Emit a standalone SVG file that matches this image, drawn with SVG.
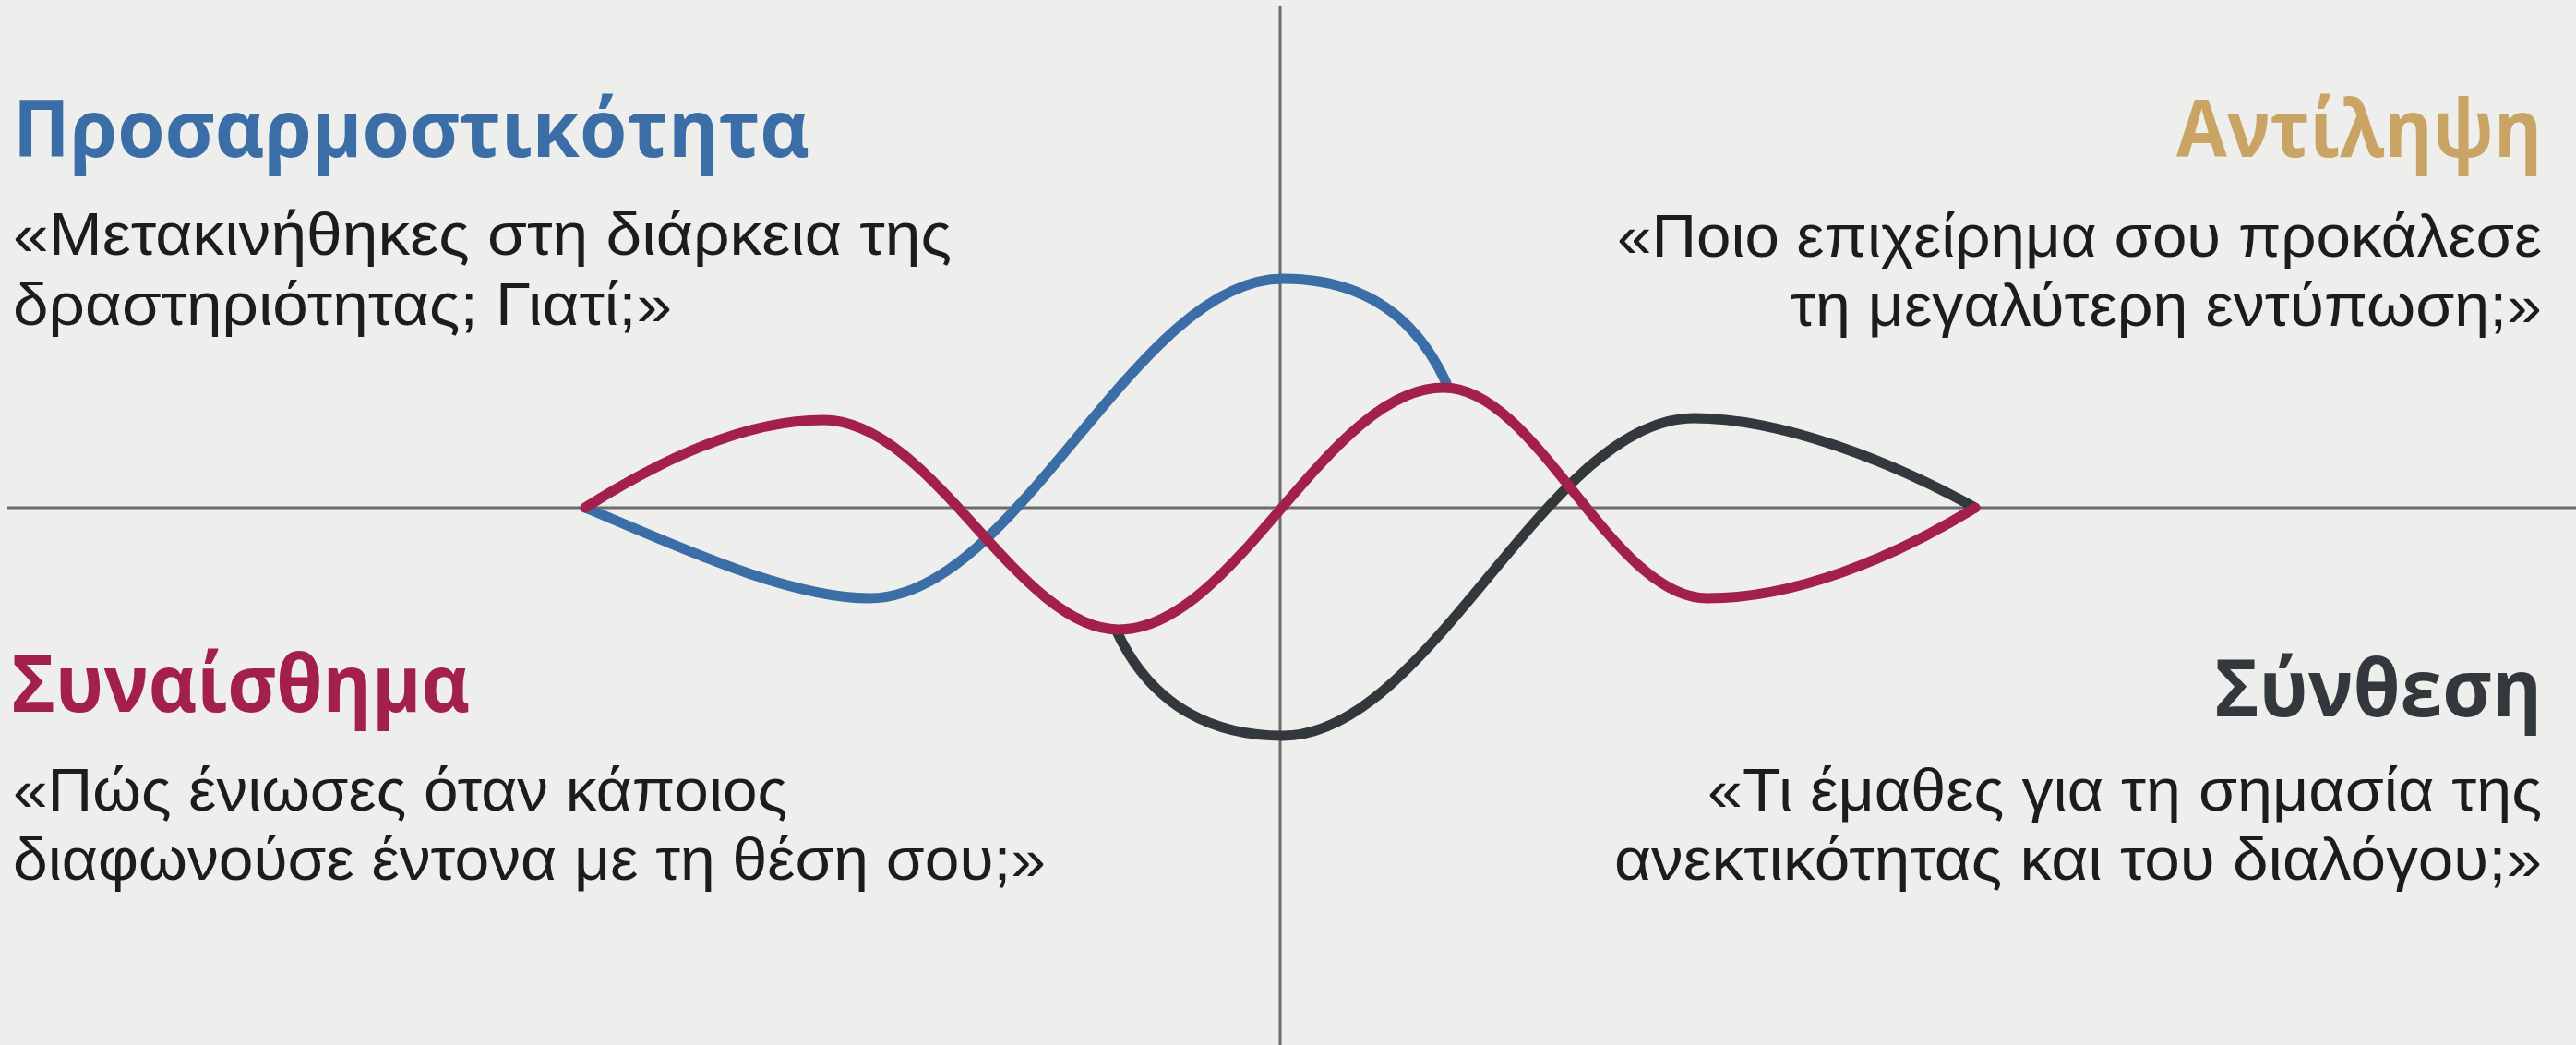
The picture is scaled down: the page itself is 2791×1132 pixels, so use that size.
<svg xmlns="http://www.w3.org/2000/svg" width="2791" height="1132" viewBox="0 0 2791 1132">
<style>
.h{font-family:"Open Sans","Liberation Sans","DejaVu Sans",sans-serif;font-weight:700;font-size:86px}
.b{font-family:"Liberation Sans","Open Sans","DejaVu Sans",sans-serif;font-size:64px;fill:#1c1c1c}
.r{text-anchor:end}
.axis{stroke:#6b6b6b;stroke-width:3;fill:none}
.wave{fill:none;stroke-width:11;stroke-linecap:round;stroke-linejoin:round}
</style>
<rect width="2791" height="1132" fill="#eeeeec"/>
<g id="axes">
<line class="axis" x1="8" y1="550" x2="2791" y2="550"/>
<line class="axis" x1="1387" y1="7" x2="1387" y2="1132"/>
</g>
<g id="connectors">
<path id="blue-wave" class="wave" stroke="#3b6ea6" d="M634,550 C720,585 850,648 942,648 C1103,648 1229,302 1390,302 C1480,302 1535,345 1567,415"/>
<path id="dark-wave" class="wave" stroke="#33383d" d="M1210,684 C1250,770 1320,797 1390,797 C1550,797 1675,453 1835,453 C1930,453 2050,500 2140,550"/>
<path id="red-wave" class="wave" stroke="#a4204c" d="M634,550 C700,508 800,455 892,455 C1010,455 1102,682 1212,682 C1339,682 1437,420 1564,420 C1666,420 1745,648 1850,648 C1945,648 2050,605 2140,550"/>
</g>
<g id="node-adaptability">
<text class="h" x="14" y="170" fill="#3b6ea6" textLength="863" lengthAdjust="spacingAndGlyphs">Προσαρμοστικότητα</text>
<text class="b" x="14" y="276" textLength="1017" lengthAdjust="spacingAndGlyphs">«Μετακινήθηκες στη διάρκεια της</text>
<text class="b" x="14" y="352" textLength="714" lengthAdjust="spacingAndGlyphs">δραστηριότητας; Γιατί;»</text>
</g>
<g id="node-perception">
<text class="h r" x="2754" y="170" fill="#c9a464" textLength="396" lengthAdjust="spacingAndGlyphs">Αντίληψη</text>
<text class="b r" x="2754" y="278" textLength="1002" lengthAdjust="spacingAndGlyphs">«Ποιο επιχείρημα σου προκάλεσε</text>
<text class="b r" x="2754" y="353" textLength="814" lengthAdjust="spacingAndGlyphs">τη μεγαλύτερη εντύπωση;»</text>
</g>
<g id="node-emotion">
<text class="h" x="12" y="771" fill="#a4204c" textLength="497" lengthAdjust="spacingAndGlyphs">Συναίσθημα</text>
<text class="b" x="14" y="878" textLength="839" lengthAdjust="spacingAndGlyphs">«Πώς ένιωσες όταν κάποιος</text>
<text class="b" x="14" y="953" textLength="1119" lengthAdjust="spacingAndGlyphs">διαφωνούσε έντονα με τη θέση σου;»</text>
</g>
<g id="node-synthesis">
<text class="h r" x="2754" y="776" fill="#33383d" textLength="355" lengthAdjust="spacingAndGlyphs">Σύνθεση</text>
<text class="b r" x="2754" y="878" textLength="904" lengthAdjust="spacingAndGlyphs">«Τι έμαθες για τη σημασία της</text>
<text class="b r" x="2754" y="953" textLength="1005" lengthAdjust="spacingAndGlyphs">ανεκτικότητας και του διαλόγου;»</text>
</g>
</svg>
